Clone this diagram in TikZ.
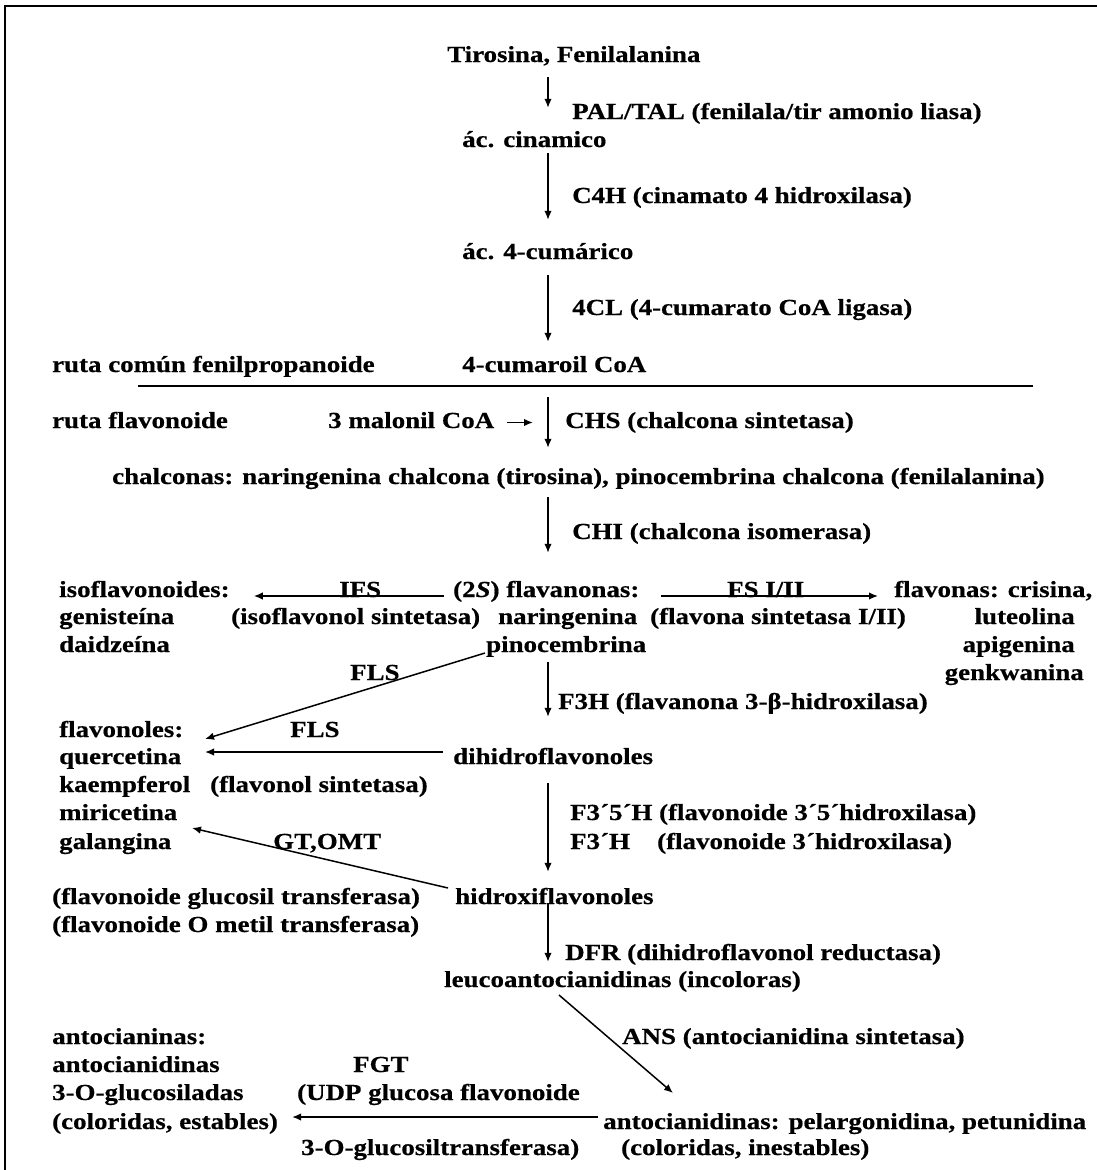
\documentclass[tikz,border=0pt]{standalone}
\usepackage{fontspec}
\setmainfont{Liberation Serif}[FakeStretch=1.17,BoldFeatures={FakeBold=0.5},BoldItalicFeatures={FakeBold=0.5}]
\usetikzlibrary{arrows.meta,calc}
\begin{document}
\begin{tikzpicture}[x=1pt,y=-1pt,
 t/.style={anchor=base west,inner sep=0pt,text height=16pt,text depth=5pt,font=\fontsize{23}{28}\selectfont\bfseries},
 te/.style={t,anchor=base east},
 arr/.style={-{Latex[length=9pt,width=7.5pt]},line width=1.5pt}]
\useasboundingbox (0,0) rectangle (1097,1170);
\fill[white] (0,0) rectangle (1097,1170);
\draw[line width=2pt] (5,1170) -- (5,6) -- (1097,6);
\coordinate (ax) at (548,0);
% common phenylpropanoid route
\node[t] (tir) at (447,62) {Tirosina, Fenilalanina};
\node[t] (pal) at (572,119) {PAL/TAL (fenilala/tir amonio liasa)};
\node[t] (cin) at (462,147) {ác. cinamico};
\node[t] (c4h) at (572,203) {C4H (cinamato 4 hidroxilasa)};
\node[t] (cum) at (462,259) {ác. 4-cumárico};
\node[t] (fcl) at (572,315) {4CL (4-cumarato CoA ligasa)};
\node[t] (ruta1) at (52,372) {ruta común fenilpropanoide};
\node[t] (coa) at (462,372) {4-cumaroil CoA};
\coordinate (la) at (138,386);
\coordinate (lb) at (1033,386);
\draw[line width=1.8pt] (la) -- (lb);
\node[t] (ruta2) at (52,428) {ruta flavonoide};
\node[t] (mal) at (328,428) {3 malonil CoA};
\node[t] (chs) at (565,428) {CHS (chalcona sintetasa)};
\node[t] (chal) at (112,484) {chalconas: naringenina chalcona (tirosina), pinocembrina chalcona (fenilalanina)};
\node[t] (chi) at (572,539) {CHI (chalcona isomerasa)};
% flavanones row
\node[t] (iso) at (59,597) {isoflavonoides:};
\node[t] (ifs) at (339,597) {IFS};
\node[t] (fl) at (453,597) {(2\textit{S}) flavanonas:};
\node[t] (fsl) at (727,597) {FS I/II};
\node[t] (fla) at (894,597) {flavonas: crisina,};
\node[t] (gen) at (59,624) {genisteína};
\node[t] (ifsn) at (231,624) {(isoflavonol sintetasa)};
\node[t] (nar) at (498,624) {naringenina};
\node[t] (fsn) at (650,624) {(flavona sintetasa I/II)};
\node[te] (lut) at (1075,624) {luteolina};
\node[t] (dai) at (59,652) {daidzeína};
\node[t] (pin) at (486,652) {pinocembrina};
\node[te] (api) at (1075,652) {apigenina};
\node[t] (fls1) at (350,680) {FLS};
\node[te] (gnk) at (1084,680) {genkwanina};
\node[t] (f3h) at (558,709) {F3H (flavanona 3-β-hidroxilasa)};
% flavonols
\node[t] (flvn) at (59,737) {flavonoles:};
\node[t] (fls2) at (290,737) {FLS};
\node[t] (querc) at (59,764) {quercetina};
\node[t] (dih) at (453,764) {dihidroflavonoles};
\node[t] (kae) at (59,792) {kaempferol};
\node[t] (flsn) at (210,792) {(flavonol sintetasa)};
\node[t] (mir) at (59,820) {miricetina};
\node[t] (f35) at (570,820) {F3´5´H (flavonoide 3´5´hidroxilasa)};
\node[t] (gal) at (59,849) {galangina};
\node[t] (gt) at (273,849) {GT,OMT};
\node[t] (f3h2) at (570,849) {F3´H};
\node[t] (f3hn) at (657,849) {(flavonoide 3´hidroxilasa)};
\node[t] (fgt1) at (52,904) {(flavonoide glucosil transferasa)};
\node[t] (hid) at (455,904) {hidroxiflavonoles};
\node[t] (fomt) at (52,932) {(flavonoide O metil transferasa)};
\node[t] (dfr) at (565,960) {DFR (dihidroflavonol reductasa)};
\node[t] (leu) at (444,987) {leucoantocianidinas (incoloras)};
% anthocyanins
\node[t] (antn) at (52,1044) {antocianinas:};
\node[t] (ans) at (622,1044) {ANS (antocianidina sintetasa)};
\node[t] (antd) at (52,1072) {antocianidinas};
\node[t] (fgt) at (353,1072) {FGT};
\node[t] (glc) at (52,1100) {3-O-glucosiladas};
\node[t] (udp) at (297,1100) {(UDP glucosa flavonoide};
\node[t] (col) at (52,1129) {(coloridas, estables)};
\node[t] (ant) at (603,1129) {antocianidinas: pelargonidina, petunidina};
\node[t] (glt) at (301,1155) {3-O-glucosiltransferasa)};
\node[t] (ine) at (621,1155) {(coloridas, inestables)};
% free ends
\coordinate (flsd) at (205,739);
\coordinate (flsh) at (205,752);
\coordinate (gte) at (192,828);
\coordinate (anse) at (673,1093);
% vertical arrows
\draw[arr,shorten <=10pt,shorten >=23pt] (tir.south -| ax) -- (cin.north -| ax);
\draw[arr,shorten <=1pt,shorten >=23pt] (cin.south -| ax) -- (cum.north -| ax);
\draw[arr,shorten <=11pt,shorten >=14pt] (cum.south -| ax) -- (coa.north -| ax);
\draw[arr,shorten <=20pt,shorten >=20pt] (coa.south -| ax) -- (chal.north -| ax);
\draw[arr,shorten <=13pt,shorten >=15pt] (mal.east) -- (mal.east -| ax);
\draw[arr,shorten <=8pt,shorten >=28pt] (chal.south -| ax) -- (fl.north -| ax);
\draw[arr,shorten <=5pt,shorten >=31pt] (pin.south -| ax) -- (dih.north -| ax);
\draw[arr,shorten <=14pt,shorten >=16pt] (dih.south -| ax) -- (hid.north -| ax);
\draw[arr,shorten <=-6pt,shorten >=9pt] (hid.south -| ax) -- (leu.north -| ax);
% horizontal and diagonal arrows
\draw[arr] ($(fl.base west)+(-9,-1)$) -- ($(iso.base east)+(24,-1)$);
\draw[arr] ($(fl.base east)+(21,-1)$) -- ($(fla.base west)+(-16,-1)$);
\draw[arr] ($(pin.base west)+(-1,1)$) -- (flsd);
\draw[arr] ($(dih.base west)+(-10,-12)$) -- (flsh);
\draw[arr] ($(hid.base west)+(-7,-16)$) -- (gte);
\draw[arr] ($(leu.base west)+(115,8)$) -- (anse);
\draw[arr] ($(ant.base west)+(-5,-12)$) -- ($(col.base east)+(14,-12)$);
\end{tikzpicture}
\end{document}
